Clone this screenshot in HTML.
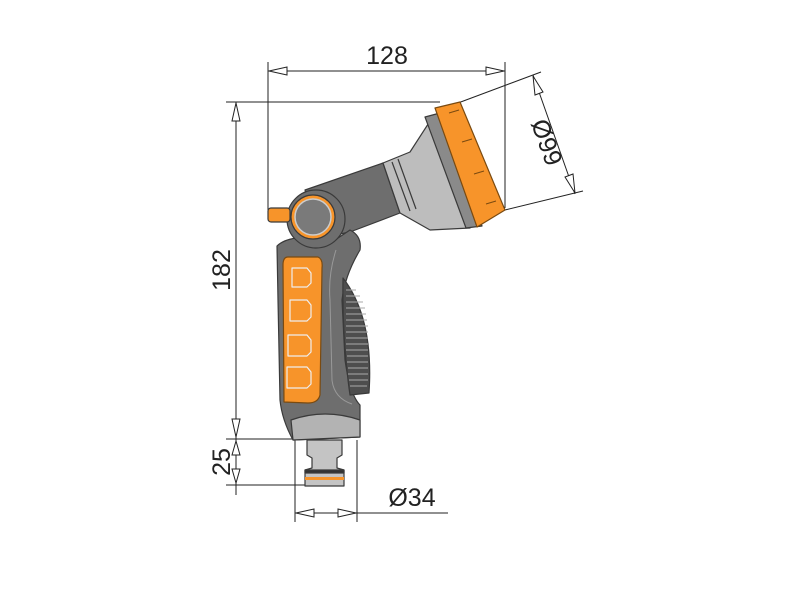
<!DOCTYPE html>
<html><head><style>html,body{margin:0;padding:0;background:#fff;}svg{display:block}</style></head>
<body>
<svg width="800" height="600" viewBox="0 0 800 600" xmlns="http://www.w3.org/2000/svg" font-family="Liberation Sans, sans-serif">
<g stroke="#222" stroke-width="1" fill="none">
  <line x1="268" y1="62" x2="268" y2="212"/>
  <line x1="505" y1="62" x2="505" y2="208"/>
  <line x1="268" y1="71" x2="505" y2="71"/>
  <polygon points="269,71 287,67 287,75" fill="#fff"/>
  <polygon points="504,71 486,67 486,75" fill="#fff"/>
  <line x1="226" y1="102" x2="440" y2="102"/>
  <line x1="236" y1="102" x2="236" y2="495"/>
  <polygon points="236,103 232,121 240,121" fill="#fff"/>
  <polygon points="236,437 232,419 240,419" fill="#fff"/>
  <line x1="226" y1="439" x2="300" y2="439"/>
  <line x1="226" y1="485" x2="312" y2="485"/>
  <polygon points="236,441 232,455 240,455" fill="#fff"/>
  <polygon points="236,483 232,469 240,469" fill="#fff"/>
  <line x1="295" y1="440" x2="295" y2="522"/>
  <line x1="357" y1="440" x2="357" y2="522"/>
  <line x1="295" y1="513" x2="448" y2="513"/>
  <polygon points="296,513 314,509 314,517" fill="#fff"/>
  <polygon points="356,513 338,509 338,517" fill="#fff"/>
  <line x1="458" y1="103" x2="541" y2="72"/>
  <line x1="505" y1="210" x2="583" y2="191"/>
  <line x1="533" y1="75" x2="575" y2="194"/>
  <polygon points="533,76 535,95 543,92" fill="#fff"/>
  <polygon points="575,193 565,177 573,174" fill="#fff"/>
</g>
<g fill="#222" font-size="25">
  <text x="387" y="64" text-anchor="middle">128</text>
  <text transform="translate(230,270) rotate(-90)" text-anchor="middle">182</text>
  <text transform="translate(230,462) rotate(-90)" text-anchor="middle">25</text>
  <text x="412" y="506" text-anchor="middle">Ø34</text>
  <text transform="translate(545,143) rotate(70)" text-anchor="middle" dominant-baseline="middle">Ø99</text>
</g>
<g stroke="#3a3a3a" stroke-width="1.2" stroke-linejoin="round">
  <!-- barrel -->
  <path d="M305,190 L383,163 L400,213 L350,232 L320,238 Z" fill="#6e6e6e"/>
  <!-- handle body -->
  <path d="M277,246 Q283,240 296,238 Q300,246 315,248 Q330,246 338,238 L350,230 Q362,236 360,250 Q345,275 342,300 L345,360 Q350,395 360,405 L360,437 L293,440 Q282,420 280,400 L278,300 Z" fill="#6e6e6e"/>
  <path d="M291,420 Q325,408 360,420 L360,437 L293,440 Z" fill="#b3b3b3"/>
  <path d="M336,250 Q328,275 330,300 L332,380 Q334,398 352,404" fill="none" stroke="#999" stroke-width="1"/>
  <!-- cone -->
  <path d="M383,163 L410,152 L432,118 L470,228 L430,230 L400,213 Z" fill="#bdbdbd"/>
  <path d="M425,117 L440,113 L482,226 L466,228 Z" fill="#8a8a8a"/>
  <line x1="392" y1="162" x2="410" y2="211"/>
  <line x1="398" y1="159" x2="416" y2="209"/>
  <!-- head -->
  <path d="M435,108 L460,102 L505,210 L477,227 Z" fill="#f7942a" stroke="#7a4a10"/>
  <g fill="none" stroke="#7a4a10" stroke-width="1">
    <path d="M449,113 l10,-3 M462,142 l10,-3 M474,174 l10,-3 M486,204 l10,-3"/>
  </g>
  <!-- trigger ribs -->
  <path d="M343,278 Q374,318 369,393 L350,395 Q342,340 343,278 Z" fill="#4e4e4e"/>
  <g stroke="#aaa" stroke-width="0.9">
    <path d="M346,290 h10 M346,296 h14 M346,302 h17 M346,308 h19 M346,314 h20 M346,320 h21 M346,326 h22 M346,332 h22 M346,338 h22 M346,344 h22 M346,350 h22 M347,356 h21 M347,362 h21 M348,368 h20 M348,374 h20 M349,380 h19 M350,386 h17"/>
  </g>
  <!-- grip -->
  <path d="M288,257 L318,257 Q323,259 322,268 L320,395 Q318,403 308,403 L284,402 L283,265 Q283,257 288,257 Z" fill="#f7942a" stroke="#7a4a10"/>
  <g fill="#f7942a" stroke="#eee" stroke-width="1.2">
    <path d="M292,268 h15 l4,5 v10 l-4,4 h-15 z"/>
    <path d="M290,300 h17 l4,5 v12 l-4,4 h-17 z"/>
    <path d="M288,335 h19 l4,5 v12 l-4,4 h-19 z"/>
    <path d="M287,367 h20 l4,5 v12 l-4,4 h-20 z"/>
  </g>
  <!-- dial -->
  <circle cx="316" cy="219" r="29" fill="#6e6e6e"/>
  <rect x="268" y="208" width="22" height="14" rx="3" fill="#f7942a"/>
  <circle cx="313" cy="217" r="22" fill="#f7942a"/>
  <circle cx="313" cy="217" r="18" fill="#7a7a7a" stroke="#ccc" stroke-width="1.5"/>
  <!-- connector -->
  <path d="M307,440 L342,440 L342,455 L337,458 L337,468 L344,470 L344,486 L305,486 L305,470 L312,468 L312,458 L307,455 Z" fill="#c4c4c4"/>
  <rect x="305" y="470" width="39" height="3" fill="#333"/>
  <rect x="305" y="477" width="39" height="3" fill="#f7942a" stroke="none"/>
</g>
</svg>
</body></html>
